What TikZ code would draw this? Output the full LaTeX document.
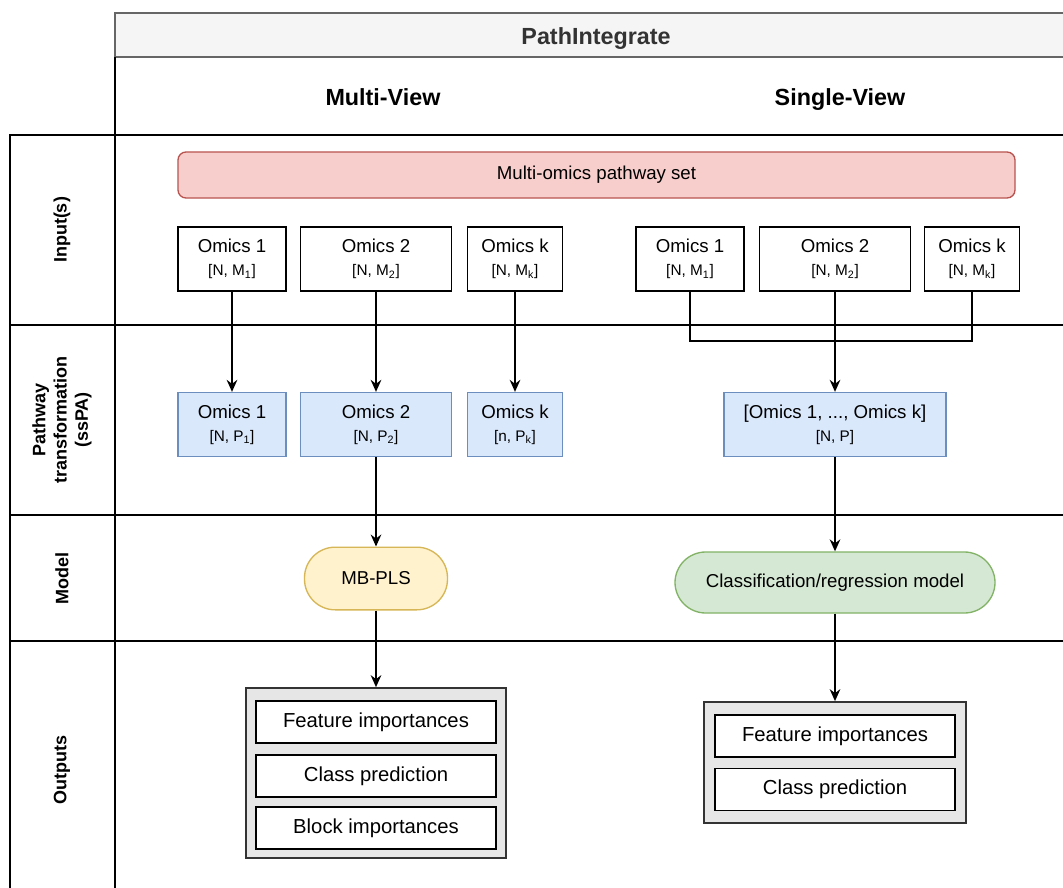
\documentclass[tikz,border=0pt]{standalone}
\usepackage{fontspec}
\setmainfont{Liberation Sans}
\usetikzlibrary{arrows.meta}

\definecolor{hdrfill}{HTML}{F5F5F5}
\definecolor{hdrline}{HTML}{666666}
\definecolor{hdrtext}{HTML}{333333}
\definecolor{setfill}{HTML}{F8CECC}
\definecolor{setline}{HTML}{B85450}
\definecolor{pwfill}{HTML}{DAE8FC}
\definecolor{pwline}{HTML}{6C8EBF}
\definecolor{plsfill}{HTML}{FFF2CC}
\definecolor{plsline}{HTML}{D6B656}
\definecolor{clsfill}{HTML}{D5E8D4}
\definecolor{clsline}{HTML}{82B366}
\definecolor{outfill}{HTML}{E6E6E6}

\newcommand{\dimtext}[1]{{\fontsize{11.5}{13}\selectfont #1}}

\begin{document}
\begin{tikzpicture}[x=0.75pt,y=-0.75pt,
	lane/.style={line width=1.1pt},
	box/.style={draw, line width=1pt, inner sep=0pt, align=center,
		minimum height=48pt, font=\fontsize{14}{17.5}\selectfont},
	inbox/.style={box, fill=white, draw=black},
	pwbox/.style={box, fill=pwfill, draw=pwline},
	wone/.style={minimum width=81pt},
	wtwo/.style={minimum width=113.25pt},
	wk/.style={minimum width=71.25pt},
	pill/.style={box, minimum height=47pt, rounded corners=23pt},
	outgroup/.style={draw=hdrtext, fill=outfill, line width=1.3pt},
	outitem/.style={draw=black, fill=white, line width=1pt, inner sep=0pt,
		minimum width=180pt, minimum height=31.5pt, text height=11pt, text depth=3pt,
		font=\fontsize{15.2}{17}\selectfont},
	lanelabel/.style={rotate=90, align=center, font=\fontsize{13.5}{16}\selectfont\bfseries},
	title/.style={anchor=base, font=\fontsize{17.5}{21}\selectfont\bfseries},
	arrow/.style={line width=1pt, -{Stealth[length=9pt,width=8pt,inset=3pt]}}
]
	\useasboundingbox (0,0) rectangle (1063,888);
	\fill[white] (0,0) rectangle (1063,888);
	\clip (0,0) rectangle (1063,888);

	%header
	\draw[fill=hdrfill, draw=hdrline, line width=1.1pt] (115,13) rectangle (1080,57);
	\node[title, text=hdrtext] (head) at (596,44.5) {PathIntegrate};
	\node[title] (mvhead) at (383,105.5) {Multi-View};
	\node[title] (svhead) at (840,105.5) {Single-View};

	%lanes
	\draw[lane] (115,57) -- (115,888);
	\draw[lane] (10,888) -- (10,135) -- (1080,135);
	\foreach \y in {325,515,641}
		\draw[lane] (10,\y) -- (1080,\y);

	%lane labels
	\node[lanelabel] (lblin) at (62,230) {Input(s)};
	\node[lanelabel] (lblpw) at (62,420) {Pathway\\transformation\\(ssPA)};
	\node[lanelabel] (lblmod) at (62,578) {Model};
	\node[lanelabel] (lblout) at (62,770) {Outputs};

	%pathway set
	\node[box, fill=setfill, draw=setline, rounded corners=6pt, minimum width=627.75pt,
		minimum height=34.5pt] (pwset) at (596.5,175) {Multi-omics pathway set};

	%multi-view inputs
	\node[inbox, wone] (mvin1) at (232,259) {Omics 1\\\dimtext{[N, M\textsubscript{1}]}};
	\node[inbox, wtwo] (mvin2) at (376,259) {Omics 2\\\dimtext{[N, M\textsubscript{2}]}};
	\node[inbox, wk] (mvink) at (515,259) {Omics k\\\dimtext{[N, M\textsubscript{k}]}};

	%single-view inputs
	\node[inbox, wone] (svin1) at (690,259) {Omics 1\\\dimtext{[N, M\textsubscript{1}]}};
	\node[inbox, wtwo] (svin2) at (835,259) {Omics 2\\\dimtext{[N, M\textsubscript{2}]}};
	\node[inbox, wk] (svink) at (972,259) {Omics k\\\dimtext{[N, M\textsubscript{k}]}};

	%pathway transformed
	\node[pwbox, wone] (mvpw1) at (232,424.5) {Omics 1\\\dimtext{[N, P\textsubscript{1}]}};
	\node[pwbox, wtwo] (mvpw2) at (376,424.5) {Omics 2\\\dimtext{[N, P\textsubscript{2}]}};
	\node[pwbox, wk] (mvpwk) at (515,424.5) {Omics k\\\dimtext{[n, P\textsubscript{k}]}};
	\node[pwbox, minimum width=166.5pt] (svpw) at (835,424.5) {[Omics 1, ..., Omics k]\\\dimtext{[N, P]}};

	%models
	\node[pill, fill=plsfill, draw=plsline, minimum width=107.25pt] (mbpls) at (376,578.5) {MB-PLS};
	\node[pill, fill=clsfill, draw=clsline, minimum width=240pt, minimum height=45.75pt] (clsmod) at (835,582.5) {Classification/regression model};

	%outputs
	\node[outgroup, minimum width=195pt, minimum height=127.5pt] (mvout) at (376,773) {};
	\node[outitem] (mvfeat) at (376,722) {Feature importances};
	\node[outitem] (mvcls) at (376,776) {Class prediction};
	\node[outitem] (mvblock) at (376,828) {Block importances};
	%
	\node[outgroup, minimum width=196.5pt, minimum height=90.75pt] (svout) at (835,762.5) {};
	\node[outitem] (svfeat) at (835,736) {Feature importances};
	\node[outitem] (svcls) at (835,789.5) {Class prediction};

	%arrows
	\draw[arrow] (mvin1) -- (mvpw1);
	\draw[arrow] (mvin2) -- (mvpw2);
	\draw[arrow] (mvink) -- (mvpwk);
	\coordinate (svjoin) at (835,341);
	\draw[line width=1pt] (svin1) |- (svjoin) -| (svink);
	\draw[arrow] (svin2) -- (svpw);
	\draw[arrow] (mvpw2) -- (mbpls);
	\draw[arrow] (svpw) -- (clsmod);
	\draw[arrow] (mbpls) -- (mvout);
	\draw[arrow] (clsmod) -- (svout);
\end{tikzpicture}
\end{document}
